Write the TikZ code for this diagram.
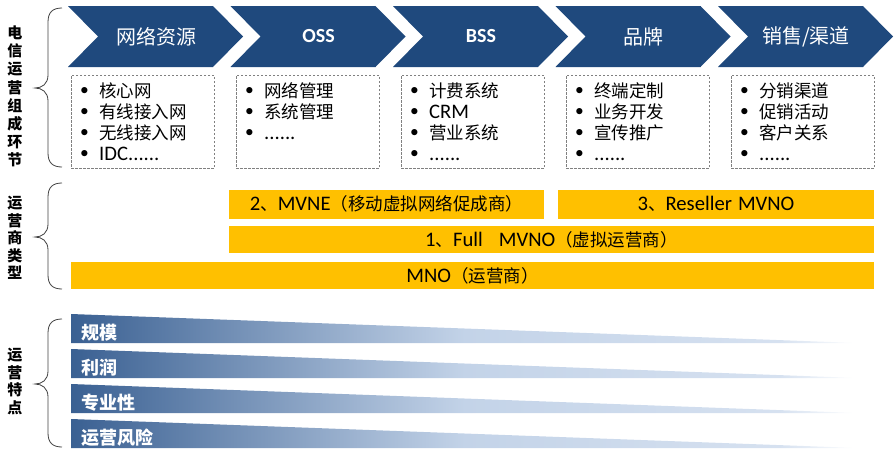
\documentclass[tikz,border=0pt]{standalone}
\usepackage{fontspec}
\setmainfont{Noto Sans CJK SC}
\newfontfamily\lat[Scale=1.18]{Carlito}
\newfontfamily\latb{Carlito}
\definecolor{chev}{HTML}{1F497D}
\definecolor{barc}{HTML}{FFC000}
\definecolor{wdark}{HTML}{3A6092}
\definecolor{wlight}{HTML}{C3D3E8}
\definecolor{wlighter}{HTML}{D6E1F0}
\pgfdeclarehorizontalshading{wedgeshade}{100bp}{color(0bp)=(wdark); color(25bp)=(wdark); color(50bp)=(wlight); color(70bp)=(wlighter); color(75bp)=(white); color(100bp)=(white)}
\tikzset{
  head/.style={text=white, font=\fontsize{20}{24}\selectfont, inner sep=0pt},
  dbox/.style={draw=black!50, dash pattern=on 2.5pt off 1.5pt, line width=0.8pt, minimum width=143pt, minimum height=93pt, inner sep=0pt},
  item/.style={anchor=base west, inner sep=0pt, font=\fontsize{17.5}{21}\selectfont},
  ybar/.style={fill=barc, inner sep=0pt, font=\fontsize{17.5}{21}\selectfont},
  wlabel/.style={anchor=west, inner sep=0pt, text=white, font=\fontsize{18}{22}\selectfont\bfseries},
  side/.style={align=center, inner sep=0pt, font=\fontsize{15}{18.2}\selectfont\bfseries},
  bracec/.style={draw=black!75, line width=0.8pt}
}
\newcommand{\bul}{\makebox[19pt][l]{\raisebox{2pt}{\latb •}}}
\newcommand{\sixdots}{{\lat ......}}
\newcommand{\idcdots}{{\lat IDC......}}
\begin{document}
\begin{tikzpicture}[x=1pt,y=-1pt]
\useasboundingbox (0,0) rectangle (895,458);
% chevrons
\foreach \i/\t in {0/{网络资源},1/{\latb\bfseries OSS},2/{\latb\bfseries BSS},3/{品牌},4/{销售/渠道}} {
  \pgfmathsetmacro\L{68+162.5*\i}
  \fill[chev] (\L,6) -- ({\L+145},6) -- ({\L+175},36.5) -- ({\L+145},67) -- (\L,67) -- ({\L+30},36.5) -- cycle;
  \node[head] (h\i) at ({\L+88},36.5) {\t};
}
% dashed boxes
\foreach \i in {0,1,2,3,4} {
  \node[dbox] (b\i) at ({142.5+165*\i},121.5) {};
}
\foreach \t [count=\j] in {核心网,有线接入网,无线接入网,\idcdots}
  \node[item] (la\j) at (80,{97.5+21*(\j-1)}) {\bul\t};
\foreach \t [count=\j] in {网络管理,系统管理,\sixdots}
  \node[item] (lb\j) at (245,{97.5+21*(\j-1)}) {\bul\t};
\foreach \t [count=\j] in {计费系统,{\lat CRM},营业系统,\sixdots}
  \node[item] (lc\j) at (410,{97.5+21*(\j-1)}) {\bul\t};
\foreach \t [count=\j] in {终端定制,业务开发,宣传推广,\sixdots}
  \node[item] (ld\j) at (575,{97.5+21*(\j-1)}) {\bul\t};
\foreach \t [count=\j] in {分销渠道,促销活动,客户关系,\sixdots}
  \node[item] (le\j) at (740,{97.5+21*(\j-1)}) {\bul\t};
% yellow bars
\node[ybar, minimum width=315pt, minimum height=28.5pt] (mvne) at (386.5,204.3) {{\lat 2}、{\lat MVNE}（移动虚拟网络促成商）};
\node[ybar, minimum width=316pt, minimum height=28.5pt] (resel) at (716,204.3) {{\lat 3}、{\lat Reseller\hspace{6pt}MVNO}};
\node[ybar, minimum width=645pt, minimum height=27.5pt] (full) at (551.5,239.7) {{\lat 1}、{\lat Full\hspace{16pt}MVNO}（虚拟运营商）};
\node[ybar, minimum width=803pt, minimum height=27.5pt] (mno) at (472.5,275.7) {{\lat MNO}（运营商）};
% wedges
\foreach \i/\t in {0/规模,1/利润,2/专业性,3/运营风险} {
  \pgfmathsetmacro\T{314+35*\i}
  \pgfmathsetmacro\B{343+35*\i}
  \shade[shading=wedgeshade] (71,\T) -- (858,\B) -- (71,\B) -- cycle;
  \node[wlabel] (w\i) at (81,{\T+19}) {\t};
}
% side labels
\node[side] (s1) at (15,96.5) {电\\信\\运\\营\\组\\成\\环\\节};
\node[side, font=\fontsize{15}{17.5}\selectfont\bfseries] (s2) at (15,238) {运\\营\\商\\类\\型};
\node[side, font=\fontsize{15}{17.7}\selectfont\bfseries] (s3) at (15,381.5) {运\\营\\特\\点};
% braces
\foreach \tp/\md/\bt in {8/88/167, 183/237/289, 319/384/447} {
  \draw[bracec] (62,\tp) .. controls (53,\tp) and (48,{\tp+4}) .. (48,{\tp+14})
    -- (48,{\md-13}) .. controls (48,{\md-4}) and (42,\md) .. (35,\md)
    .. controls (42,\md) and (48,{\md+4}) .. (48,{\md+13})
    -- (48,{\bt-14}) .. controls (48,{\bt-4}) and (53,\bt) .. (62,\bt);
}
\end{tikzpicture}
\end{document}
